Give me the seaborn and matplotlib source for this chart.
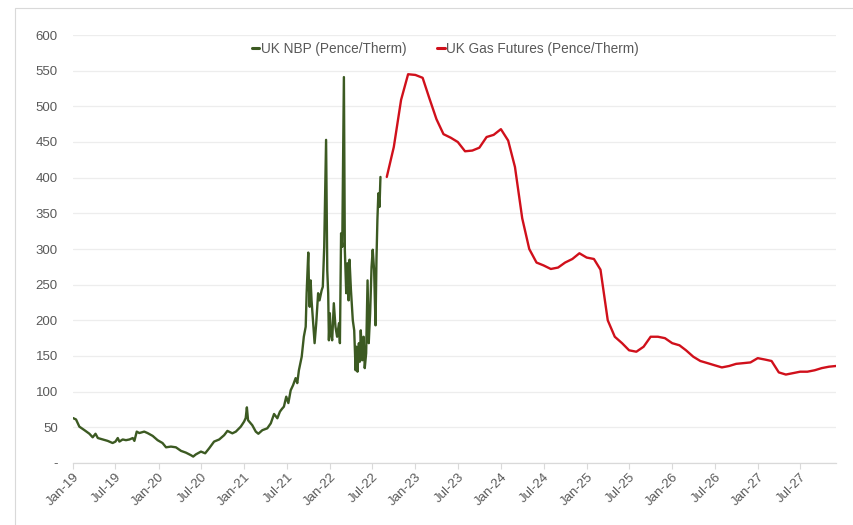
import matplotlib
matplotlib.use("Agg")
import matplotlib.pyplot as plt
import matplotlib.dates as mdates
from matplotlib.patches import Rectangle
from matplotlib.ticker import FuncFormatter, MultipleLocator
import pandas as pd
import seaborn as sns

# UK NBP spot price (pence/therm)
nbp_dates = [
    "2019-01-01", "2019-01-14", "2019-01-28", "2019-02-19", "2019-03-12", "2019-03-26",
    "2019-04-07", "2019-04-17", "2019-05-08", "2019-05-29", "2019-06-19", "2019-07-01",
    "2019-07-11", "2019-07-18", "2019-08-01", "2019-08-15", "2019-08-30", "2019-09-13",
    "2019-09-20", "2019-09-30", "2019-10-11", "2019-11-01", "2019-11-15", "2019-12-07",
    "2019-12-28", "2020-01-18", "2020-02-02", "2020-02-23", "2020-03-15", "2020-04-06",
    "2020-04-27", "2020-05-18", "2020-05-28", "2020-06-08", "2020-06-30", "2020-07-18",
    "2020-08-04", "2020-08-25", "2020-09-16", "2020-10-07", "2020-10-21", "2020-11-11",
    "2020-11-26", "2020-12-17", "2020-12-31", "2021-01-07", "2021-01-12", "2021-01-17",
    "2021-02-04", "2021-02-19", "2021-03-02", "2021-03-19", "2021-04-09", "2021-04-24",
    "2021-05-08", "2021-05-22", "2021-06-02", "2021-06-11", "2021-06-19", "2021-06-29",
    "2021-07-08", "2021-07-18", "2021-07-28", "2021-08-08", "2021-08-15", "2021-08-22",
    "2021-09-03", "2021-09-12", "2021-09-20", "2021-09-24", "2021-10-01", "2021-10-04",
    "2021-10-07", "2021-10-11", "2021-10-15", "2021-10-22", "2021-10-28", "2021-11-04",
    "2021-11-12", "2021-11-18", "2021-11-27", "2021-12-02", "2021-12-08", "2021-12-11",
    "2021-12-16", "2021-12-21", "2021-12-25", "2021-12-28", "2022-01-01", "2022-01-05",
    "2022-01-11", "2022-01-18", "2022-01-25", "2022-02-01", "2022-02-09", "2022-02-13",
    "2022-02-18", "2022-02-23", "2022-03-02", "2022-03-06", "2022-03-12", "2022-03-17",
    "2022-03-22", "2022-03-26", "2022-04-01", "2022-04-09", "2022-04-15", "2022-04-21",
    "2022-04-25", "2022-04-29", "2022-05-05", "2022-05-09", "2022-05-13", "2022-05-19",
    "2022-05-25", "2022-05-30", "2022-06-05", "2022-06-11", "2022-06-16", "2022-06-22",
    "2022-06-28", "2022-07-03", "2022-07-09", "2022-07-15", "2022-07-19", "2022-07-23",
    "2022-07-27", "2022-08-01", "2022-08-05",
]
nbp_values = [
    63, 61, 51, 46, 41, 36,
    41, 35, 33, 31, 28, 30,
    35, 30, 33, 32, 33, 35,
    31, 44, 42, 44, 42, 38,
    32, 28, 22, 23, 22, 17,
    14.5, 11, 9, 12, 16, 13.6,
    20.6, 30, 33, 39, 45, 41.6,
    44, 51, 58, 63, 78, 60,
    53, 44, 41, 46, 48.6, 55.6,
    68.7, 62.7, 72, 76, 79, 93,
    84, 102, 109, 119, 112, 130,
    149, 177, 191, 238, 295, 247,
    219, 256, 228, 196, 168, 196,
    238, 228, 242, 247, 303, 359,
    453, 270, 238, 172, 210, 182,
    172, 224, 191, 177, 196, 168,
    322, 303, 541, 299, 238, 280,
    228, 285, 243, 200, 186, 130,
    163, 128, 168, 142, 186, 144,
    177, 133, 154, 256, 168, 210,
    275, 299, 270, 193, 285, 341,
    378, 359, 401,
]

# UK gas futures curve, monthly contracts Sep-22 .. Dec-27 (pence/therm)
fut_start = "2022-09-01"
fut_values = [
    401, 443, 509, 545,
    544, 540, 512, 482, 461, 456, 450, 437, 438, 442, 457, 460,
    468, 452, 415, 343, 300, 281, 277, 272, 274, 281, 286, 294,
    288, 286, 271, 200, 177, 168, 158, 156, 163, 177, 177, 175,
    168, 165, 158, 149, 143, 140, 137, 134, 136, 139, 140, 141,
    147, 145, 143, 127, 124, 126, 128, 128, 130, 133, 135, 136,
]

series_names = ["UK NBP (Pence/Therm)", "UK Gas Futures (Pence/Therm)"]
series_colors = ["#3c5a22", "#d0101b"]

nbp = pd.DataFrame({"date": pd.to_datetime(nbp_dates), "value": nbp_values,
                    "series": series_names[0]})
fut = pd.DataFrame({"date": pd.date_range(fut_start, periods=len(fut_values), freq="MS"),
                    "value": fut_values, "series": series_names[1]})
df = pd.concat([nbp, fut], ignore_index=True)

sns.set_theme(style="white")
plt.rcParams["font.family"] = ["Liberation Sans", "DejaVu Sans"]

text_grey = "#595959"
fig = plt.figure(figsize=(8.54, 5.25), dpi=100)
ax = fig.add_axes([73 / 854, 1 - 463 / 525, (836 - 73) / 854, (463 - 35) / 525])

sns.lineplot(data=df, x="date", y="value", hue="series", hue_order=series_names,
             palette=dict(zip(series_names, series_colors)), linewidth=1.7,
             ax=ax, estimator=None, sort=True)

ax.set_xlim(pd.Timestamp("2019-01-01"), pd.Timestamp("2027-12-01"))
ax.set_ylim(0, 600)
ax.yaxis.set_major_locator(MultipleLocator(50))
ax.yaxis.set_major_formatter(FuncFormatter(lambda v, p: "-" if v == 0 else f"{v:.0f}"))
ax.grid(axis="y", color="#ededed", linewidth=0.9)
ax.grid(axis="x", visible=False)
ax.set_axisbelow(True)

ax.xaxis.set_major_locator(mdates.MonthLocator(bymonth=[1, 7]))
ax.xaxis.set_major_formatter(mdates.DateFormatter("%b-%y"))
ax.set_xlabel("")
ax.set_ylabel("")

for side in ["top", "right", "left"]:
    ax.spines[side].set_visible(False)
ax.spines["bottom"].set_color("#d9d9d9")
ax.spines["bottom"].set_linewidth(0.9)

ax.tick_params(axis="y", length=0, pad=11, labelsize=9.5, labelcolor=text_grey)
ax.tick_params(axis="x", bottom=True, length=4, width=0.8, color="#d9d9d9",
               pad=2, labelsize=9.5, labelcolor=text_grey)
for lbl in ax.get_xticklabels():
    lbl.set_rotation(45)
    lbl.set_ha("right")
    lbl.set_va("top")
    lbl.set_rotation_mode("anchor")

leg = ax.legend(loc="upper center", bbox_to_anchor=(0.488, 1.0), ncol=2, frameon=False,
                handlelength=0.55, handletextpad=0.1, columnspacing=2.3,
                fontsize=9.8, borderaxespad=0.1)
for t in leg.get_texts():
    t.set_color(text_grey)
for h in leg.get_lines():
    h.set_linewidth(2.2)

fig.patches.append(Rectangle((15 / 854, -0.05), 1.2, 1 - 8 / 525 + 0.05,
                             transform=fig.transFigure, fill=False,
                             edgecolor="#d9d9d9", linewidth=0.8))

fig.savefig("out.png", dpi=100)
